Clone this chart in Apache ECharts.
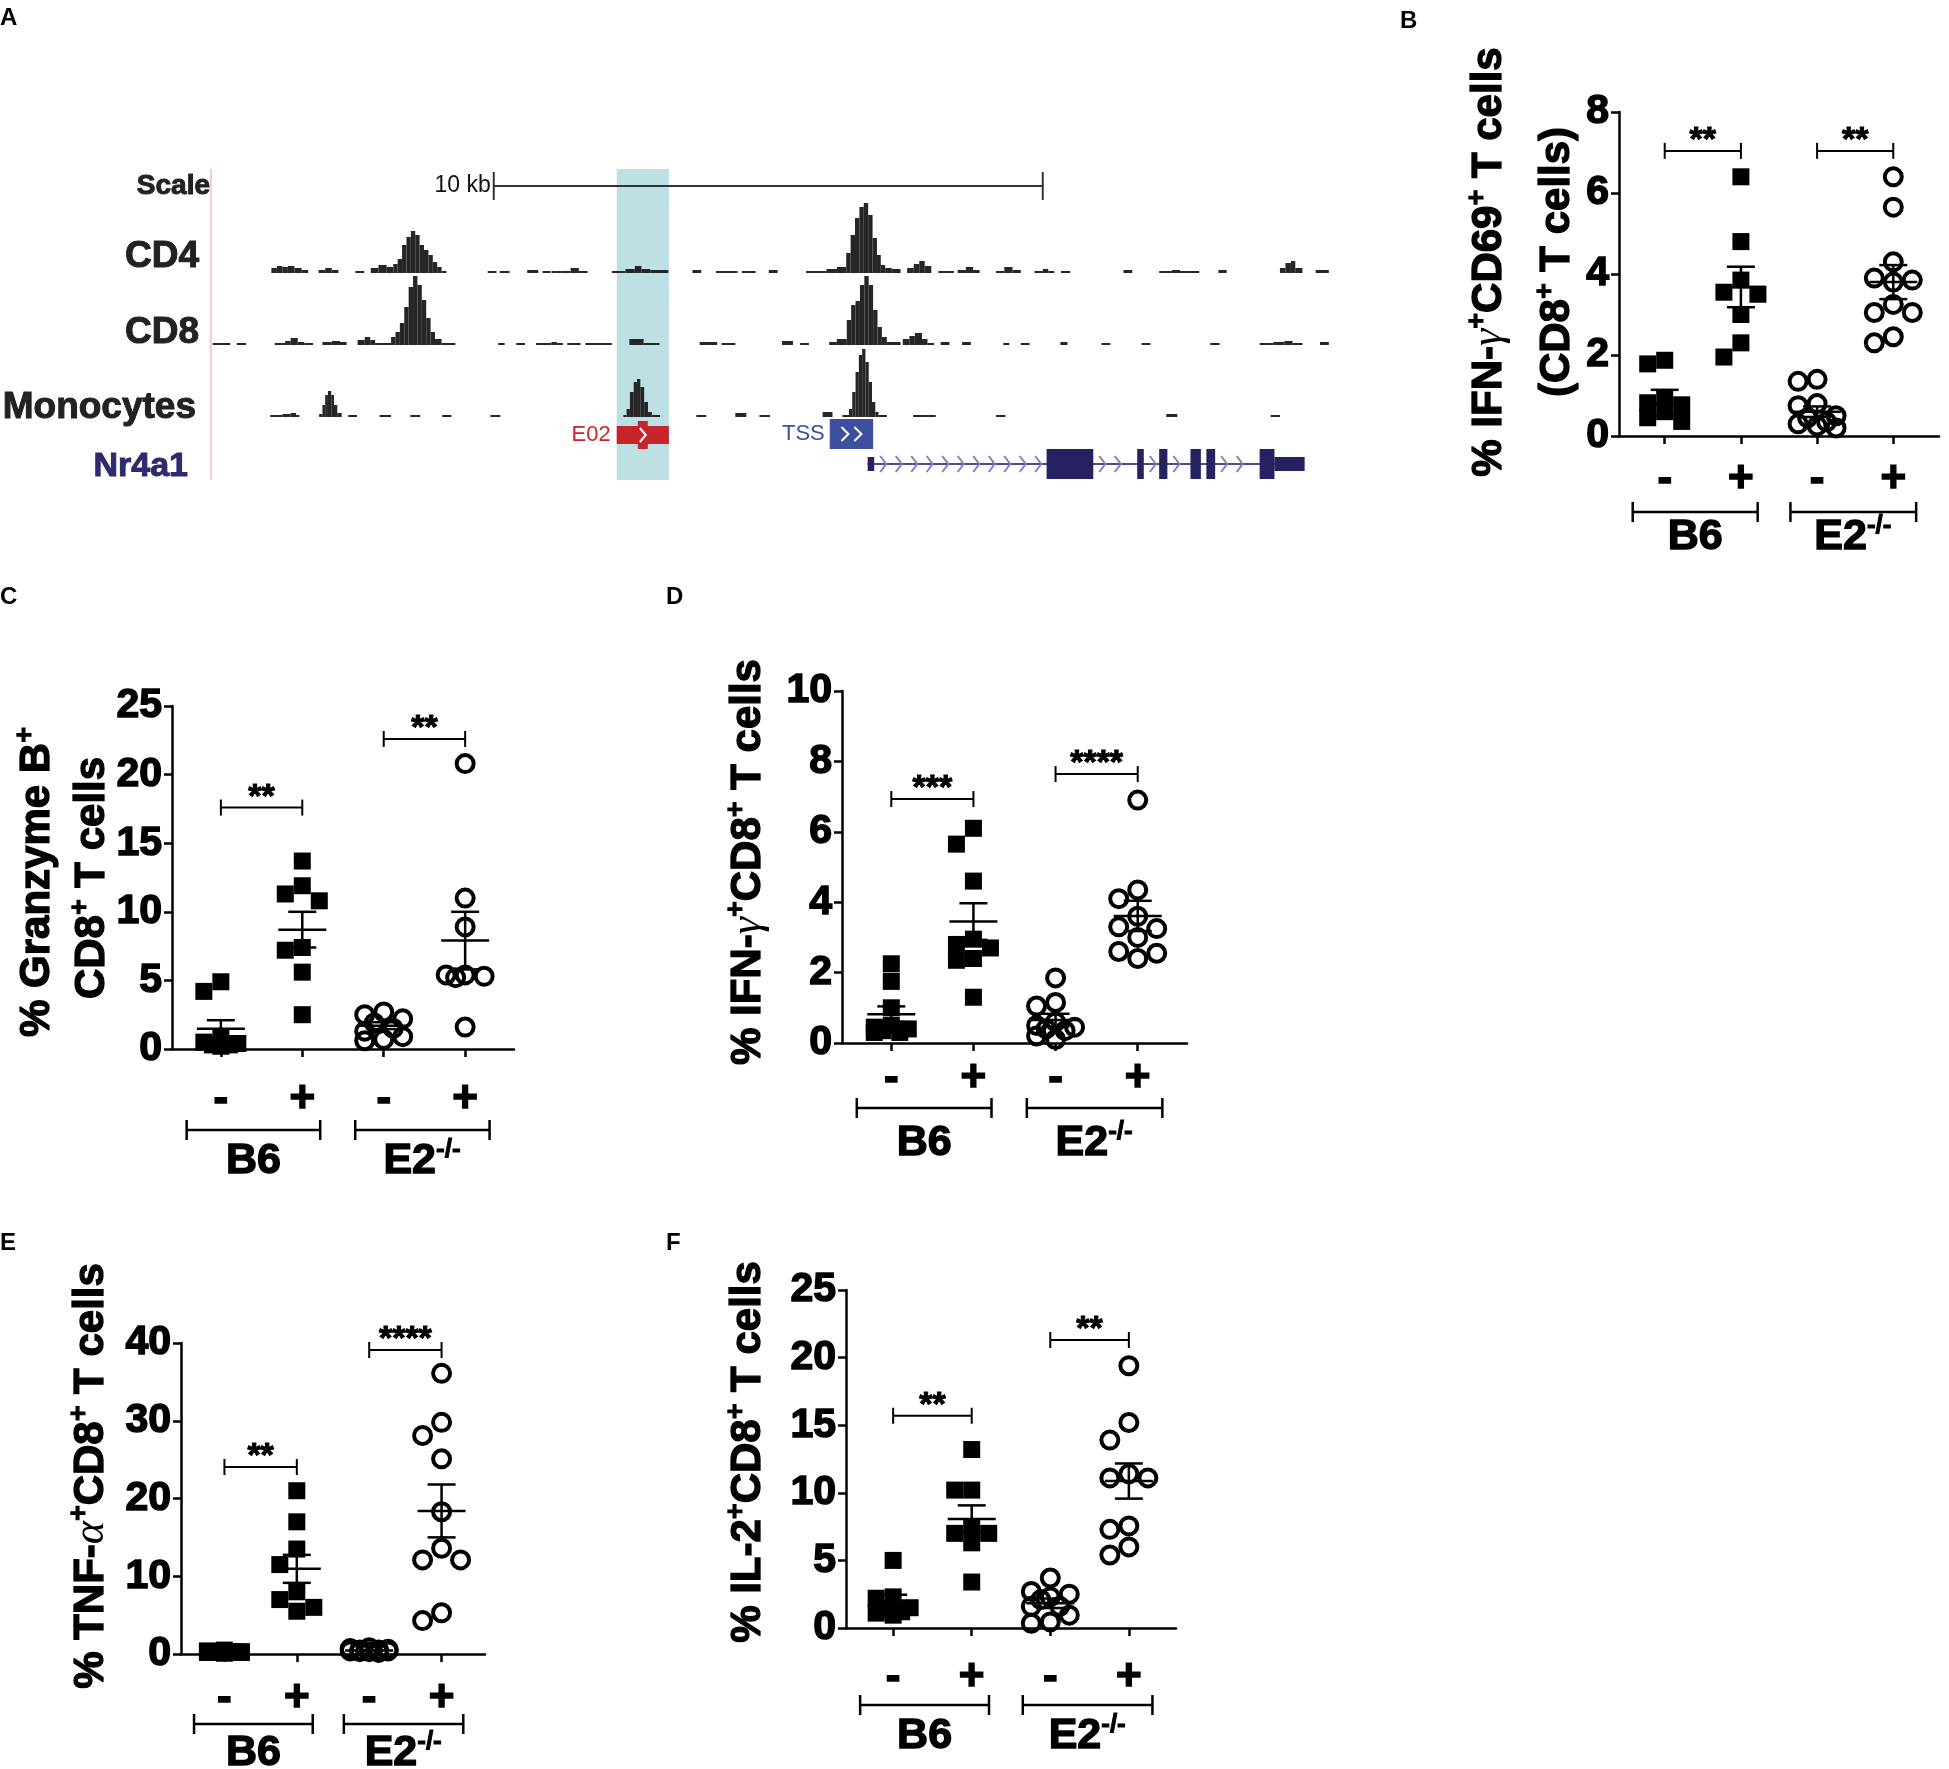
<!DOCTYPE html>
<html>
<head>
<meta charset="utf-8">
<title>Nr4a1 E02 enhancer and CD8 T cell cytokines</title>
<script src="https://cdn.jsdelivr.net/npm/echarts@6.0.0/dist/echarts.min.js"></script>
<style>
  html, body { margin: 0; padding: 0; background: #fff; }
  #chart { width: 1949px; height: 1769px; }
</style>
</head>
<body>
<div id="chart"></div>
<script>
// ---------- panel A : accessibility tracks, [start kb, end kb, signal] ----------
const cd4Signal = [
  [0.0,0.1,5],[0.1,0.2,7],[0.2,0.3,6],[0.3,0.42,7],[0.42,0.55,5],[0.55,0.67,3],
  [0.86,0.98,3],[0.98,1.1,5],[1.1,1.22,3],[1.53,1.69,2],
  [1.81,1.95,5],[1.95,2.1,8],[2.1,2.22,6],[2.22,2.3,9],
  [2.3,2.38,14],[2.38,2.46,28],[2.46,2.54,36],[2.54,2.62,42],[2.62,2.7,38],[2.7,2.78,28],
  [2.78,2.86,23],[2.86,2.94,18],[2.94,3.02,11],[3.02,3.1,6],[3.1,3.19,2],
  [3.94,4.1,1],[4.16,4.34,1],[4.66,4.86,3],[4.94,5.08,1],[5.1,5.18,2],[5.18,5.27,1],
  [5.27,5.45,2],[5.45,5.6,5],[5.6,5.76,2],
  [6.2,6.45,2],[6.45,6.62,4],[6.62,6.74,7],[6.74,6.9,4],[6.9,7.23,3],
  [7.67,7.83,3],[8.1,8.3,2],[8.3,8.49,2],[8.57,8.82,1],[9.06,9.22,3],
  [9.74,9.92,1],[9.92,10.11,2],[10.11,10.3,4],[10.3,10.47,6],
  [10.47,10.55,20],[10.55,10.63,38],[10.63,10.71,55],[10.71,10.79,66],[10.79,10.87,70],
  [10.87,10.95,58],[10.95,11.03,35],[11.03,11.1,18],[11.1,11.18,8],
  [11.18,11.3,5],[11.3,11.46,4],[11.58,11.7,5],[11.7,11.8,9],[11.8,11.9,12],[11.9,12.02,7],
  [12.15,12.43,1],[12.5,12.65,3],[12.65,12.78,6],[12.78,12.9,3],
  [13.2,13.35,2],[13.35,13.5,6],[13.5,13.65,3],[13.9,14.05,2],[14.05,14.15,4],[14.15,14.26,2],
  [14.38,14.55,1],[15.52,15.68,3],[16.17,16.4,1],[16.4,16.55,3],[16.55,16.9,2],[17.25,17.4,3],
  [18.37,18.47,5],[18.47,18.57,10],[18.57,18.65,12],[18.65,18.78,5],[19.02,19.26,3]
];
const cd8Signal = [
  [-1.07,-0.75,1],[-0.63,-0.46,1],
  [0.06,0.25,2],[0.25,0.35,4],[0.35,0.48,7],[0.48,0.6,3],[0.6,0.76,1],
  [0.93,1.1,3],[1.1,1.25,4],[1.25,1.37,3],[1.57,1.7,5],[1.7,1.8,8],[1.8,1.89,5],[1.89,2.18,1],
  [2.18,2.26,8],[2.26,2.34,13],[2.34,2.42,22],[2.42,2.5,38],[2.5,2.58,58],[2.58,2.66,69],
  [2.66,2.74,60],[2.74,2.82,45],[2.82,2.9,27],[2.9,2.98,13],[2.98,3.1,6],[3.1,3.35,2],
  [4.13,4.25,2],[4.46,4.62,1],[4.82,5.1,1],[5.1,5.2,3],[5.2,5.31,1],[5.39,5.63,2],[5.72,6.2,1],
  [6.52,6.78,6],[6.78,7.07,1],[7.8,8.12,3],[8.2,8.45,1],[9.3,9.5,4],[9.63,9.79,2],
  [10.16,10.3,3],[10.3,10.48,6],
  [10.48,10.56,25],[10.56,10.64,40],[10.64,10.72,44],[10.72,10.8,60],[10.8,10.88,69],
  [10.88,10.96,60],[10.96,11.04,35],[11.04,11.12,18],[11.12,11.21,8],
  [11.21,11.46,3],[11.5,11.62,6],[11.62,11.72,9],[11.72,11.85,12],[11.85,11.95,6],[11.95,12.07,1],
  [12.19,12.35,3],[12.58,12.74,3],[13.33,13.44,1],[13.65,13.81,1],[14.37,14.5,3],
  [15.12,15.28,1],[15.85,16.01,1],[17.1,17.27,1],
  [18.0,18.25,2],[18.25,18.45,3],[18.45,18.6,4],[18.6,18.78,2],[19.1,19.26,3]
];
const monoSignal = [
  [-0.02,0.2,2],[0.2,0.35,3],[0.35,0.45,4],[0.45,0.51,2],
  [0.87,0.93,3],[0.93,0.98,12],[0.98,1.03,22],[1.03,1.09,26],[1.09,1.14,22],[1.14,1.2,12],[1.2,1.28,4],
  [1.4,1.56,1],[1.97,2.18,2],[2.53,2.71,2],[3.11,3.28,1],[3.99,4.17,2],
  [6.41,6.47,2],[6.47,6.53,8],[6.53,6.6,25],[6.6,6.66,35],[6.66,6.72,38],[6.72,6.79,30],
  [6.79,6.86,15],[6.86,6.93,5],[6.93,7.08,1],
  [7.74,7.92,1],[8.45,8.65,4],[8.89,9.08,2],[10.04,10.22,5],[10.4,10.52,1],
  [10.52,10.58,8],[10.58,10.64,25],[10.64,10.7,45],[10.7,10.76,62],[10.76,10.82,68],
  [10.82,10.88,55],[10.88,10.94,35],[10.94,11.0,15],[11.0,11.06,5],
  [11.06,11.21,2],[11.69,12.1,2],[13.2,13.37,1],[16.3,16.5,3],[18.2,18.37,2]
];
const scaleBarKb = [4.05, 14.05];
const highlightKb = [6.29, 7.24];
const e02Kb = [6.29, 7.24];
const tssKb = [10.17, 10.96];
const nr4a1Kb = [10.86, 18.8];
// [start kb, end kb, 1 = coding exon, 0 = UTR]
const nr4a1Exons = [
  [10.86,10.98,0],[14.12,14.97,1],[15.77,15.89,1],[16.17,16.32,1],
  [16.74,16.93,1],[17.03,17.19,1],[18.0,18.27,1],[18.27,18.82,0]
];

// ---------- panels B-F : % positive CD8 T cells ----------
const conditions = ['-', '+', '-', '+'];
const strains = ['B6', 'E2'];
const strainSup = ['', '-/-'];

const bB6Neg = [1.78, 1.87, 0.82, 0.77, 0.95, 0.45, 0.36, 0.6];
const bB6Pos = [6.4, 4.8, 3.85, 3.5, 3.55, 3.0, 2.3, 1.95];
const bE2Neg = [1.35, 1.4, 0.75, 0.8, 0.3, 0.25, 0.2, 0.35, 0.45, 0.5];
const bE2Pos = [6.4, 5.65, 4.3, 3.9, 3.8, 3.85, 3.25, 3.05, 3.05, 2.3, 2.45];
const bMean = [0.82, 3.68, 0.6, 3.8];
const bSem = [0.32, 0.5, 0.13, 0.42];
const bSig = [7.04, 7.04];
const bStars = ['**', '**'];

const cB6Neg = [4.2, 4.9, 0.3, 0.2, 0.4, 0.5, 0.9, 0.3];
const cB6Pos = [13.7, 11.9, 11.3, 10.8, 7.4, 7.2, 5.6, 2.5];
const cE2Neg = [1.5, 2.7, 2.5, 1.3, 0.6, 0.7, 0.9, 1.9, 2.2];
const cE2Pos = [20.8, 11.0, 8.9, 5.4, 5.3, 5.2, 5.4, 1.6];
const cMean = [1.48, 8.7, 1.7, 7.9];
const cSem = [0.62, 1.3, 0.25, 2.1];
const cSig = [17.6, 22.6];
const cStars = ['**', '**'];

const dB6Neg = [1.75, 2.25, 1.0, 0.45, 0.4, 0.35, 0.5, 0.3, 0.3];
const dB6Pos = [5.65, 6.1, 4.6, 2.95, 2.8, 2.7, 2.35, 2.4, 1.3];
const dE2Neg = [1.85, 1.15, 1.05, 0.35, 0.4, 0.2, 0.1, 0.6, 0.45, 0.5];
const dE2Pos = [6.9, 4.1, 4.35, 3.3, 3.6, 3.25, 2.55, 2.6, 3.0, 2.4];
const dMean = [0.82, 3.45, 0.65, 3.61];
const dSem = [0.22, 0.52, 0.18, 0.43];
const dSig = [6.93, 7.64];
const dStars = ['***', '****'];

const eB6Neg = [0.3, 0.2, 0.4, 0.1, 0.3, 0.5, 0.2, 0.3];
const eB6Pos = [21, 17, 13.5, 11.5, 8, 7, 5.5, 6];
const eE2Neg = [0.4, 0.6, 0.3, 0.5, 0.8, 0.2, 0.7, 0.4, 0.5, 0.3];
const eE2Pos = [36.1, 29.8, 28.1, 25.1, 18.3, 13.6, 12.1, 12.1, 4.3, 5.3];
const eMean = [0.3, 10.95, 0.45, 18.4];
const eSem = [0.05, 1.8, 0.06, 3.4];
const eSig = [24.05, 39.1];
const eStars = ['**', '****'];

const fB6Neg = [5.0, 1.2, 2.2, 2.3, 0.95, 1.4, 1.5, 1.1];
const fB6Pos = [13.2, 10.2, 10.2, 7.0, 7.5, 7.0, 6.3, 3.4];
const fE2Neg = [3.7, 2.7, 2.5, 1.6, 0.95, 0.35, 0.45, 2.1, 2.3, 1.6];
const fE2Pos = [19.4, 15.2, 13.9, 11.1, 11.4, 11.1, 7.3, 7.55, 5.4, 6.0];
const fMean = [1.96, 8.07, 1.83, 10.87];
const fSem = [0.5, 1.0, 0.35, 1.3];
const fSig = [15.7, 21.3];
const fStars = ['**', '**'];

// ---------- styling / layout ----------
const FONT = '"Liberation Sans", Arial, Helvetica, sans-serif';
const INK = '#000';
const NAVY = '#262262';

const panels = [
  { groups: [bB6Neg, bB6Pos, bE2Neg, bE2Pos], mean: bMean, sem: bSem, sig: bSig, stars: bStars,
    ymax: 8, step: 2, grid: { left: 1619, top: 112, width: 320, height: 324 }, labelGap: 22, barGap: 76, nameGap: 101 },
  { groups: [cB6Neg, cB6Pos, cE2Neg, cE2Pos], mean: cMean, sem: cSem, sig: cSig, stars: cStars,
    ymax: 25, step: 5, grid: { left: 172, top: 706, width: 342, height: 343 }, labelGap: 29, barGap: 81, nameGap: 112 },
  { groups: [dB6Neg, dB6Pos, dE2Neg, dE2Pos], mean: dMean, sem: dSem, sig: dSig, stars: dStars,
    ymax: 10, step: 2, grid: { left: 842, top: 691, width: 345, height: 352 }, labelGap: 14, barGap: 65, nameGap: 100 },
  { groups: [eB6Neg, eB6Pos, eE2Neg, eE2Pos], mean: eMean, sem: eSem, sig: eSig, stars: eStars,
    ymax: 40, step: 10, grid: { left: 181, top: 1343, width: 304, height: 311 }, labelGap: 23, barGap: 70, nameGap: 99 },
  { groups: [fB6Neg, fB6Pos, fE2Neg, fE2Pos], mean: fMean, sem: fSem, sig: fSig, stars: fStars,
    ymax: 25, step: 5, grid: { left: 846, top: 1290, width: 330, height: 338 }, labelGap: 28, barGap: 77, nameGap: 108 }
];
const groupSpan = [[-0.42, 1.22, 0.4], [1.65, 3.3, 2.47]];

// spread overlapping points sideways, GraphPad style
function swarm(values, pxPerUnit, size) {
  const cands = [0, -1, 1, -0.5, 0.5];
  const placed = [];
  const offs = values.map(() => 0);
  const order = values.map((v, i) => i).sort((a, b) => values[b] - values[a]);
  order.forEach(i => {
    const y = values[i] * pxPerUnit;
    let best = 0, bestPen = Infinity;
    for (const c of cands) {
      const x = c * size;
      let pen = 0;
      placed.forEach(p => {
        const ox = size - Math.abs(p.x - x), oy = size - Math.abs(p.y - y);
        if (ox > 0 && oy > 0) pen += Math.pow(ox * oy, 2);
      });
      if (pen < bestPen - 1e-6) { bestPen = pen; best = x; }
      if (pen === 0) break;
    }
    offs[i] = best;
    placed.push({ x: best, y: y });
  });
  return offs;
}

// heavy (stroked) bold text, closer to the Helvetica Bold of the figure
const richBase = {
  t: { fontSize: 42, fontWeight: 'bold', fontFamily: FONT, fill: INK, stroke: INK, lineWidth: 1.3, lineHeight: 50 },
  g: { fontSize: 44, fontStyle: 'italic', fontFamily: '"Liberation Serif", "DejaVu Serif", serif', fill: INK, lineHeight: 50 },
  s: { fontSize: 27, fontWeight: 'bold', fontFamily: FONT, fill: INK, stroke: INK, lineWidth: 1, lineHeight: 30, verticalAlign: 'top' }
};

const grids = [], xAxes = [], yAxes = [], series = [];

// ---- panel A grids ----
const trackLayout = [
  { top: 169, height: 311, ymax: 311 },   // annotations
  { top: 201, height: 72, ymax: 72, data: cd4Signal },
  { top: 273, height: 72, ymax: 72, data: cd8Signal },
  { top: 345, height: 72, ymax: 72, data: monoSignal }
];
trackLayout.forEach((t, i) => {
  grids.push({ left: 211, top: t.top, width: 1120, height: t.height, outerBoundsMode: 'none' });
  xAxes.push({ gridIndex: i, type: 'value', min: -1.1, max: 19.3, show: false });
  yAxes.push({ gridIndex: i, type: 'value', min: 0, max: t.ymax, show: false });
  if (t.data) {
    series.push({
      type: 'custom', xAxisIndex: i, yAxisIndex: i, z: 3, data: t.data,
      encode: { x: [0, 1], y: 2 },
      renderItem: function (params, api) {
        const p0 = api.coord([api.value(0), api.value(2)]);
        const p1 = api.coord([api.value(1), 0]);
        const h = Math.max(2, p1[1] - p0[1]);
        return { type: 'rect', shape: { x: p0[0], y: p1[1] - h, width: Math.max(1.5, p1[0] - p0[0]), height: h }, style: { fill: '#262626' } };
      }
    });
  }
});

function kbx(api, v) { return api.coord([v, 0])[0]; }

series.push({
  type: 'custom', xAxisIndex: 0, yAxisIndex: 0, z: 1, data: [highlightKb], encode: { x: [0, 1] },
  renderItem: function (params, api) {
    const cs = params.coordSys, a = kbx(api, api.value(0)), b = kbx(api, api.value(1));
    return { type: 'rect', shape: { x: a, y: cs.y, width: b - a, height: cs.height }, style: { fill: '#bde0e4' } };
  }
});
series.push({
  type: 'custom', xAxisIndex: 0, yAxisIndex: 0, z: 4, data: [scaleBarKb], encode: { x: [0, 1] },
  renderItem: function (params, api) {
    const cs = params.coordSys, a = kbx(api, api.value(0)), b = kbx(api, api.value(1)), y = cs.y + 17;
    const st = { stroke: '#333', lineWidth: 2 };
    return { type: 'group', children: [
      { type: 'line', shape: { x1: a, y1: y, x2: b, y2: y }, style: st },
      { type: 'line', shape: { x1: a, y1: y - 14, x2: a, y2: y + 14 }, style: st },
      { type: 'line', shape: { x1: b, y1: y - 14, x2: b, y2: y + 14 }, style: st },
      { type: 'text', x: a - 3, y: y, style: { text: '10 kb', fontSize: 23, fontFamily: FONT, fill: '#111', align: 'right', verticalAlign: 'middle' } }
    ] };
  }
});
series.push({
  type: 'custom', xAxisIndex: 0, yAxisIndex: 0, z: 4, data: [e02Kb], encode: { x: [0, 1] },
  renderItem: function (params, api) {
    const cs = params.coordSys, a = kbx(api, api.value(0)), b = kbx(api, api.value(1)), m = (a + b) / 2, y0 = cs.y + 257;
    const red = '#c8242b';
    return { type: 'group', children: [
      { type: 'rect', shape: { x: a, y: y0, width: b - a, height: 18 }, style: { fill: red } },
      { type: 'rect', shape: { x: m - 5, y: y0 - 5, width: 10, height: 28 }, style: { fill: red } },
      { type: 'polyline', shape: { points: [[m - 3, y0 + 2], [m + 3, y0 + 9], [m - 3, y0 + 16]] }, style: { stroke: '#fff', lineWidth: 2, fill: 'none' } },
      { type: 'text', x: a - 6, y: y0 + 9, style: { text: 'E02', fontSize: 22, fontFamily: FONT, fill: red, align: 'right', verticalAlign: 'middle' } }
    ] };
  }
});
series.push({
  type: 'custom', xAxisIndex: 0, yAxisIndex: 0, z: 4, data: [tssKb], encode: { x: [0, 1] },
  renderItem: function (params, api) {
    const cs = params.coordSys, a = kbx(api, api.value(0)), b = kbx(api, api.value(1)), m = (a + b) / 2, y0 = cs.y + 250;
    const blue = '#3d4f9f';
    const chev = c => ({ type: 'polyline', shape: { points: [[c - 4, y0 + 8], [c + 3, y0 + 15], [c - 4, y0 + 22]] }, style: { stroke: '#fff', lineWidth: 2, fill: 'none' } });
    return { type: 'group', children: [
      { type: 'rect', shape: { x: a, y: y0, width: b - a, height: 30 }, style: { fill: blue } },
      chev(m - 6), chev(m + 7),
      { type: 'text', x: a - 5, y: y0 + 15, style: { text: 'TSS', fontSize: 22, fontFamily: FONT, fill: blue, align: 'right', verticalAlign: 'middle' } }
    ] };
  }
});
series.push({
  type: 'custom', xAxisIndex: 0, yAxisIndex: 0, z: 4, data: [nr4a1Kb], encode: { x: [0, 1] },
  renderItem: function (params, api) {
    const cs = params.coordSys, yc = cs.y + 295;
    const kids = [{ type: 'line', shape: { x1: kbx(api, api.value(0)), y1: yc, x2: kbx(api, api.value(1)), y2: yc }, style: { stroke: '#4b4b8f', lineWidth: 2 } }];
    for (let i = 0; i < nr4a1Exons.length - 1; i++) {
      const g0 = kbx(api, nr4a1Exons[i][1]) + 9, g1 = kbx(api, nr4a1Exons[i + 1][0]) - 6;
      for (let x = g0; x <= g1; x += 15.5) {
        kids.push({ type: 'polyline', shape: { points: [[x - 3, yc - 8], [x + 3, yc], [x - 3, yc + 8]] }, style: { stroke: '#8282b8', lineWidth: 2, fill: 'none' } });
      }
    }
    nr4a1Exons.forEach(e => {
      const h = e[2] ? 15 : 7, a = kbx(api, e[0]), b = kbx(api, e[1]);
      kids.push({ type: 'rect', shape: { x: a, y: yc - h, width: b - a, height: 2 * h }, style: { fill: NAVY } });
    });
    return { type: 'group', children: kids };
  }
});

// ---- scatter panels ----
panels.forEach((p, k) => {
  const gi = 4 + k;
  grids.push(Object.assign({ outerBoundsMode: 'none' }, p.grid));
  xAxes.push({
    gridIndex: gi, type: 'value', min: -0.6, max: 3.6,
    axisLine: { show: true, onZero: false, lineStyle: { color: INK, width: 2.5 } },
    axisTick: { show: true, customValues: [0, 1, 2, 3], length: 8, lineStyle: { color: INK, width: 2.5 } },
    axisLabel: { show: true, customValues: [0, 1, 2, 3], formatter: v => conditions[Math.round(v)], margin: p.labelGap,
      fontSize: 44, fontWeight: 'bold', fontFamily: FONT, color: INK, textBorderColor: INK, textBorderWidth: 1.5 },
    splitLine: { show: false }
  });
  yAxes.push({
    gridIndex: gi, type: 'value', min: 0, max: p.ymax, interval: p.step,
    axisLine: { show: true, onZero: false, lineStyle: { color: INK, width: 2.5 } },
    axisTick: { show: true, length: 8, lineStyle: { color: INK, width: 2.5 } },
    axisLabel: { fontSize: 41, fontWeight: 'bold', fontFamily: FONT, color: INK, margin: 10, textBorderColor: INK, textBorderWidth: 1.5 },
    splitLine: { show: false }
  });
  const ppu = p.grid.height / p.ymax;
  p.groups.forEach((vals, g) => {
    const filled = g < 2;
    const offs = swarm(vals, ppu, filled ? 17 : 19);
    series.push({
      type: 'scatter', xAxisIndex: gi, yAxisIndex: gi, z: 2, clip: false,
      symbol: filled ? 'rect' : 'circle', symbolSize: 17,
      itemStyle: filled ? { color: INK, opacity: 1 } : { color: 'rgba(255,255,255,0)', borderColor: INK, borderWidth: 4, opacity: 1 },
      data: vals.map((v, i) => ({ value: [g, v], symbolOffset: [offs[i], 0] }))
    });
  });
  series.push({
    type: 'custom', xAxisIndex: gi, yAxisIndex: gi, z: 5, encode: { x: 0, y: 1 },
    data: p.mean.map((m, g) => [g, m, p.sem[g]]),
    renderItem: function (params, api) {
      const g = api.value(0), m = api.value(1), s = api.value(2);
      const c = api.coord([g, m]), top = api.coord([g, m + s])[1], bot = api.coord([g, Math.max(0, m - s)])[1];
      const st = { stroke: INK, lineWidth: 2.5 };
      return { type: 'group', children: [
        { type: 'line', shape: { x1: c[0] - 24, y1: c[1], x2: c[0] + 24, y2: c[1] }, style: st },
        { type: 'line', shape: { x1: c[0], y1: top, x2: c[0], y2: bot }, style: st },
        { type: 'line', shape: { x1: c[0] - 14, y1: top, x2: c[0] + 14, y2: top }, style: st },
        { type: 'line', shape: { x1: c[0] - 14, y1: bot, x2: c[0] + 14, y2: bot }, style: st }
      ] };
    }
  });
  series.push({
    type: 'custom', xAxisIndex: gi, yAxisIndex: gi, z: 5, encode: { x: [0, 1], y: 2 },
    data: p.sig.map((y, j) => [2 * j, 2 * j + 1, y]),
    renderItem: function (params, api) {
      const a = api.coord([api.value(0), api.value(2)]), b = api.coord([api.value(1), api.value(2)]);
      const st = { stroke: INK, lineWidth: 2 };
      return { type: 'group', children: [
        { type: 'line', shape: { x1: a[0], y1: a[1], x2: b[0], y2: b[1] }, style: st },
        { type: 'line', shape: { x1: a[0], y1: a[1] - 8, x2: a[0], y2: a[1] + 8 }, style: st },
        { type: 'line', shape: { x1: b[0], y1: b[1] - 8, x2: b[0], y2: b[1] + 8 }, style: st },
        { type: 'text', x: (a[0] + b[0]) / 2, y: a[1] - 10, style: { text: p.stars[params.dataIndex], fontSize: 34, fontWeight: 'bold', fontFamily: FONT, fill: INK, stroke: INK, lineWidth: 1, align: 'center', verticalAlign: 'middle' } }
      ] };
    }
  });
  series.push({
    type: 'custom', xAxisIndex: gi, yAxisIndex: gi, z: 5, clip: false, encode: { x: [0, 1, 2] },
    data: groupSpan,
    renderItem: function (params, api) {
      const a = api.coord([api.value(0), 0]), b = api.coord([api.value(1), 0]), c = api.coord([api.value(2), 0]);
      const y = a[1] + p.barGap, st = { stroke: INK, lineWidth: 2.5 };
      const j = params.dataIndex;
      const label = '{a|' + strains[j] + '}' + (strainSup[j] ? '{s|' + strainSup[j] + '}' : '');
      return { type: 'group', children: [
        { type: 'line', shape: { x1: a[0], y1: y, x2: b[0], y2: y }, style: st },
        { type: 'line', shape: { x1: a[0], y1: y - 10, x2: a[0], y2: y + 10 }, style: st },
        { type: 'line', shape: { x1: b[0], y1: y - 10, x2: b[0], y2: y + 10 }, style: st },
        { type: 'text', x: c[0], y: a[1] + p.nameGap, style: { text: label, align: 'center', verticalAlign: 'middle',
          rich: {
            a: { fontSize: 43, fontWeight: 'bold', fontFamily: FONT, fill: INK, stroke: INK, lineWidth: 1.4, lineHeight: 48 },
            s: { fontSize: 26, fontWeight: 'bold', fontFamily: FONT, fill: INK, stroke: INK, lineWidth: 1, lineHeight: 26, verticalAlign: 'top' }
          } } }
      ] };
    }
  });
});

// ---- static texts ----
function label(x, y, text, size, align, color) {
  const c = color || INK;
  return { type: 'text', x: x, y: y, style: { text: text, fontSize: size, fontWeight: 'bold', fontFamily: FONT, fill: c, stroke: c, lineWidth: 1, align: align, verticalAlign: 'middle' } };
}
function letter(x, y, text) {
  return { type: 'text', x: x, y: y, style: { text: text, fontSize: 24, fontWeight: 'bold', fontFamily: FONT, fill: INK, align: 'left', verticalAlign: 'top' } };
}
function yTitle(x, y, text) {
  return { type: 'text', x: x, y: y, rotation: Math.PI / 2, style: { text: text, align: 'center', verticalAlign: 'middle', rich: richBase } };
}

const graphic = [
  letter(0, 6, 'A'), letter(1400, 9, 'B'), letter(0, 585, 'C'), letter(666, 585, 'D'), letter(0, 1231, 'E'), letter(666, 1231, 'F'),
  { type: 'line', shape: { x1: 211, y1: 169, x2: 211, y2: 480 }, style: { stroke: '#e8a3a3', lineWidth: 1 } },
  label(210, 186, 'Scale', 28, 'right', '#222'),
  label(199, 257, 'CD4', 37, 'right', '#222'),
  label(199, 333, 'CD8', 37, 'right', '#222'),
  label(196, 408, 'Monocytes', 37, 'right', '#222'),
  label(188, 467, 'Nr4a1', 34, 'right', '#2d2a6e'),
  yTitle(1489, 262, '{t|% IFN-}{g|γ}{s|+}{t|CD69}{s|+}{t| T cells}'),
  yTitle(1557, 262, '{t|(CD8}{s|+}{t| T cells)}'),
  yTitle(37, 882, '{t|% Granzyme B}{s|+}'),
  yTitle(92, 878, '{t|CD8}{s|+}{t| T cells}'),
  yTitle(748, 862, '{t|% IFN-}{g|γ}{s|+}{t|CD8}{s|+}{t| T cells}'),
  yTitle(91, 1476, '{t|% TNF-}{g|α}{s|+}{t|CD8}{s|+}{t| T cells}'),
  yTitle(748, 1452, '{t|% IL-2}{s|+}{t|CD8}{s|+}{t| T cells}')
];

const chart = echarts.init(document.getElementById('chart'), null, { renderer: 'canvas' });
chart.setOption({
  backgroundColor: '#fff',
  animation: false,
  grid: grids,
  xAxis: xAxes,
  yAxis: yAxes,
  series: series,
  graphic: graphic
});
</script>
</body>
</html>
